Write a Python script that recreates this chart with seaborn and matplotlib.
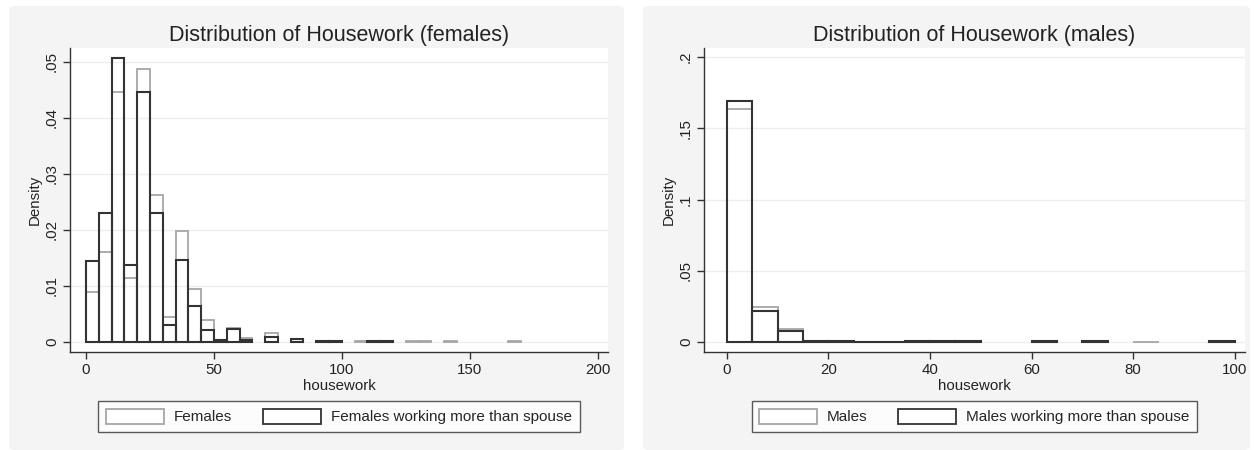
import numpy as np
import pandas as pd
import seaborn as sns
import matplotlib.pyplot as plt
from matplotlib.patches import Patch, FancyBboxPatch

fem_bins = np.arange(0, 170, 5)
fem_all = [0.0090, 0.0161, 0.0446, 0.0115, 0.0488, 0.0262, 0.0045, 0.0199, 0.0095, 0.0039,
           0.0002, 0.0025, 0.0007, 0.0, 0.0016, 0.0, 0.0006, 0.0, 0.0002, 0.0002,
           0.0, 0.0002, 0.0002, 0.0002, 0.0, 0.0002, 0.0002, 0.0, 0.0002, 0.0,
           0.0, 0.0, 0.0, 0.0002]
fem_more = [0.0144, 0.0230, 0.0507, 0.0137, 0.0446, 0.0230, 0.0030, 0.0146, 0.0065, 0.0021,
            0.0003, 0.0023, 0.0004, 0.0, 0.0009, 0.0, 0.0005, 0.0, 0.0002, 0.0002,
            0.0, 0.0, 0.0002, 0.0002, 0.0, 0.0, 0.0, 0.0, 0.0, 0.0,
            0.0, 0.0, 0.0, 0.0]

male_bins = np.arange(0, 100, 5)
male_all = [0.1637, 0.0248, 0.0091, 0.0005, 0.0008, 0.0003, 0.0003, 0.0003, 0.0003, 0.0003,
            0.0, 0.0, 0.0, 0.0, 0.0, 0.0, 0.0003, 0.0, 0.0, 0.0]
male_more = [0.1689, 0.0215, 0.0080, 0.0005, 0.0010, 0.0003, 0.0003, 0.0005, 0.0004, 0.0004,
             0.0, 0.0, 0.0004, 0.0, 0.0004, 0.0, 0.0, 0.0, 0.0, 0.0004]

sns.set_theme(style="white")
plt.rcParams['font.family'] = ['Liberation Sans', 'DejaVu Sans']

GRAY = "#a6a6a6"
DARK = "#333333"
BG = "#f4f4f4"

W, H = 1254, 450
fig = plt.figure(figsize=(W / 100, H / 100), dpi=100)
fig.patch.set_facecolor("white")

# panel backgrounds (two separate stata graphs combined)
for x0, x1 in [(9, 624), (643, 1250)]:
    fig.patches.append(FancyBboxPatch((x0 / W, 0), (x1 - x0) / W, (H - 6) / H,
                                      boxstyle="round,pad=0,rounding_size=0.006",
                                      transform=fig.transFigure, facecolor=BG,
                                      edgecolor="none", zorder=-5))


def stata_fmt(v):
    s = f"{v:g}"
    if s.startswith("0."):
        s = s[1:]
    return s


def draw_panel(rect, bins, all_vals, more_vals, xlim, ylim, xticks, yticks, title, labels):
    ax = fig.add_axes(rect)
    ax.set_facecolor("white")
    brange = (float(bins[0]), float(bins[-1] + 5))
    df = pd.DataFrame({"x": bins + 2.5, "all": all_vals, "more": more_vals})
    sns.histplot(data=df, x="x", weights="all", binwidth=5, binrange=brange, fill=False,
                 color=GRAY, linewidth=1.3, ax=ax)
    sns.histplot(data=df, x="x", weights="more", binwidth=5, binrange=brange, fill=False,
                 color=DARK, linewidth=1.5, ax=ax)
    # drop empty bins so they do not leave a line on the baseline
    for p in list(ax.patches):
        if p.get_height() <= 0:
            p.remove()
    ax.set_xlim(*xlim)
    ax.set_ylim(*ylim)
    ax.set_xticks(xticks)
    ax.set_yticks(yticks)
    ax.set_yticklabels([stata_fmt(v) for v in yticks], rotation=90, va="center")
    ax.tick_params(axis="both", direction="out", length=5, width=1, color=DARK,
                   labelsize=10.8, labelcolor="#222222", pad=3, left=True, bottom=True)
    for y in yticks:
        ax.axhline(y, color="#eeeeee", linewidth=1, zorder=0)
    for side in ["top", "right"]:
        ax.spines[side].set_visible(False)
    for side in ["left", "bottom"]:
        ax.spines[side].set_color(DARK)
        ax.spines[side].set_linewidth(1)
    ax.set_xlabel("housework", fontsize=10.8, color="#222222", labelpad=1)
    ax.set_ylabel("Density", fontsize=10.8, color="#222222", labelpad=2)
    ax.set_title(title, fontsize=15.5, color="#222222", pad=5)
    handles = [Patch(facecolor="white", edgecolor=GRAY, linewidth=1.3),
               Patch(facecolor="white", edgecolor=DARK, linewidth=1.3)]
    leg = ax.legend(handles, labels, ncol=2, loc="center",
                    bbox_to_anchor=(0.5, -0.212), frameon=True, fancybox=False,
                    edgecolor=DARK, fontsize=11, handlelength=3.8, handleheight=1.15,
                    columnspacing=2.0, handletextpad=0.65, borderpad=0.5)
    leg.get_frame().set_linewidth(1)
    return ax


draw_panel([70 / W, 98 / H, 538 / W, 304 / H], fem_bins, fem_all, fem_more,
           (-6.25, 204), (-0.0018, 0.0525), [0, 50, 100, 150, 200],
           [0, 0.01, 0.02, 0.03, 0.04, 0.05], "Distribution of Housework (females)",
           ["Females", "Females working more than spouse"])

draw_panel([704 / W, 98 / H, 541 / W, 304 / H], male_bins, male_all, male_more,
           (-4.5, 102), (-0.007, 0.2063), [0, 20, 40, 60, 80, 100],
           [0, 0.05, 0.1, 0.15, 0.2], "Distribution of Housework (males)",
           ["Males", "Males working more than spouse"])

fig.savefig("out.png", dpi=100, facecolor=fig.get_facecolor())
